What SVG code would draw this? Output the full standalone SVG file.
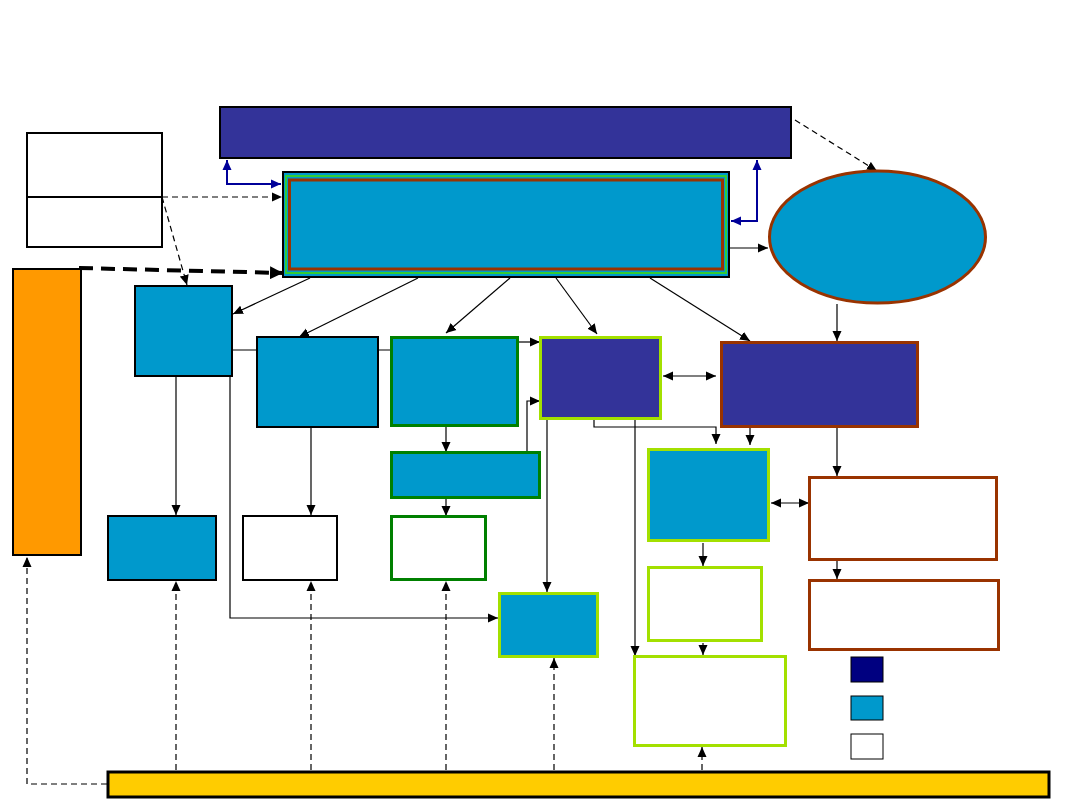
<svg xmlns="http://www.w3.org/2000/svg" width="1080" height="810" viewBox="0 0 1080 810">
<defs>
<marker id="a" viewBox="0 0 10 10" refX="10" refY="5" markerWidth="10" markerHeight="10" markerUnits="userSpaceOnUse" orient="auto-start-reverse"><path d="M0,0.5L10,5L0,9.5z" fill="#000"/></marker>
<marker id="ab" viewBox="0 0 10 10" refX="10" refY="5" markerWidth="10" markerHeight="10" markerUnits="userSpaceOnUse" orient="auto-start-reverse"><path d="M0,0.5L10,5L0,9.5z" fill="#000099"/></marker>
<marker id="abig" viewBox="0 0 10 10" refX="10" refY="5" markerWidth="13" markerHeight="13" markerUnits="userSpaceOnUse" orient="auto"><path d="M0,0L10,5L0,10z" fill="#000"/></marker>
<style>
.k{stroke:#000;stroke-width:2}
.pu{fill:#333399}
.te{fill:#0099cc}
.wh{fill:#fff}
.dg{stroke:#008000;stroke-width:3}
.lg{stroke:#a3e000;stroke-width:3}
.br{stroke:#993300;stroke-width:3}
.c{fill:none;stroke:#000;stroke-width:1.2}
.d{fill:none;stroke:#000;stroke-width:1.2;stroke-dasharray:6,4}
.bl{fill:none;stroke:#000099;stroke-width:2}
</style>
</defs>
<rect width="1080" height="810" fill="#fff"/>
<g id="connectors">
<path class="bl" d="M227,160V184H281" marker-start="url(#ab)" marker-end="url(#ab)"/>
<path class="bl" d="M731,221H757V160" marker-start="url(#ab)" marker-end="url(#ab)"/>
<path class="d" d="M162,197H282" stroke-width="1.8" marker-end="url(#a)"/>
<path class="d" d="M162,197L187,285" marker-end="url(#a)"/>
<path d="M79,268L283,273" fill="none" stroke="#000" stroke-width="4" stroke-dasharray="14,8" marker-end="url(#abig)"/>
<path class="d" d="M795,120L877,171" marker-end="url(#a)"/>
<path class="c" d="M730,248H768" stroke="#555" marker-end="url(#a)"/>
<path class="c" d="M310,278L233,314" marker-end="url(#a)"/>
<path class="c" d="M418,278L299,337" marker-end="url(#a)"/>
<path class="c" d="M510,278L446,333" marker-end="url(#a)"/>
<path class="c" d="M556,278L597,334" marker-end="url(#a)"/>
<path class="c" d="M650,278L750,341" marker-end="url(#a)"/>
<path class="c" d="M837,304V341" marker-end="url(#a)"/>
<path class="c" d="M232,350H257M378,350H391"/>
<path class="c" d="M518,342H540" marker-end="url(#a)"/>
<path class="c" d="M527,452V401H540" marker-end="url(#a)"/>
<path class="c" d="M446,427V452" marker-end="url(#a)"/>
<path class="c" d="M446,499V516" marker-end="url(#a)"/>
<path class="c" d="M176,377V515" marker-end="url(#a)"/>
<path class="c" d="M230,377V618H498" marker-end="url(#a)"/>
<path class="c" d="M311,428V515" marker-end="url(#a)"/>
<path class="c" d="M547,420V592" marker-end="url(#a)"/>
<path class="c" d="M594,420V427H716V444" marker-end="url(#a)"/>
<path class="c" d="M635,420V656" marker-end="url(#a)"/>
<path class="c" d="M663,376H716" marker-start="url(#a)" marker-end="url(#a)"/>
<path class="c" d="M750,428V445" marker-end="url(#a)"/>
<path class="c" d="M837,428V476" marker-end="url(#a)"/>
<path class="c" d="M771,503H809" marker-start="url(#a)" marker-end="url(#a)"/>
<path class="c" d="M703,543V566" marker-end="url(#a)"/>
<path class="c" d="M703,643V655" marker-end="url(#a)"/>
<path class="c" d="M837,561V579" marker-end="url(#a)"/>
<path class="d" d="M176,770V581" marker-end="url(#a)"/>
<path class="d" d="M311,770V581" marker-end="url(#a)"/>
<path class="d" d="M446,770V581" marker-end="url(#a)"/>
<path class="d" d="M554,770V658" marker-end="url(#a)"/>
<path class="d" d="M702,770V747" marker-end="url(#a)"/>
<path class="d" d="M107,784H27V557" marker-end="url(#a)"/>
</g>
<g id="top-bar"><rect x="220" y="107" width="571" height="51" class="pu k"/></g>
<g id="main-box">
<rect x="283" y="172" width="446" height="105" class="te k"/>
<rect x="286" y="176" width="440" height="97" fill="none" stroke="#33cc33" stroke-width="2"/>
<rect x="289.5" y="180" width="433" height="89" fill="none" class="br"/>
</g>
<g id="left-box">
<rect x="27" y="133" width="135" height="114" class="wh k"/>
<line x1="27" y1="197" x2="162" y2="197" class="k"/>
</g>
<g id="orange-bar"><rect x="13" y="269" width="68" height="286" fill="#ff9900" class="k"/></g>
<g id="ellipse"><ellipse cx="877.5" cy="237" rx="108" ry="66" class="te br"/></g>
<g id="box-a"><rect x="135" y="286" width="97" height="90" class="te k"/></g>
<g id="box-b"><rect x="257" y="337" width="121" height="90" class="te k"/></g>
<g id="box-c"><rect x="391.5" y="337.5" width="126" height="88" class="te dg"/></g>
<g id="box-d"><rect x="540.5" y="337.5" width="120" height="81" class="pu lg"/></g>
<g id="box-e"><rect x="721.5" y="342.5" width="196" height="84" class="pu br"/></g>
<g id="box-f"><rect x="391.5" y="452.5" width="148" height="45" class="te dg"/></g>
<g id="box-g"><rect x="108" y="516" width="108" height="64" class="te k"/></g>
<g id="box-h"><rect x="243" y="516" width="94" height="64" class="wh k"/></g>
<g id="box-i"><rect x="391.5" y="516.5" width="94" height="63" class="wh dg"/></g>
<g id="box-j"><rect x="499.5" y="593.5" width="98" height="63" class="te lg"/></g>
<g id="box-k"><rect x="648.5" y="449.5" width="120" height="91" class="te lg"/></g>
<g id="box-l"><rect x="648.5" y="567.5" width="113" height="73" class="wh lg"/></g>
<g id="box-m"><rect x="634.5" y="656.5" width="151" height="89" class="wh lg"/></g>
<g id="box-n"><rect x="809.5" y="477.5" width="187" height="82" class="wh br"/></g>
<g id="box-o"><rect x="809.5" y="580.5" width="189" height="69" class="wh br"/></g>
<g id="legend">
<rect x="851" y="657" width="32" height="25" fill="#000080" stroke="#000" stroke-width="1"/>
<rect x="851" y="696" width="32" height="24" fill="#0099cc" stroke="#000" stroke-width="1"/>
<rect x="851" y="734" width="32" height="25" fill="#fff" stroke="#000" stroke-width="1"/>
</g>
<g id="yellow-bar"><rect x="108" y="772" width="941" height="25" fill="#ffcc00" stroke="#000" stroke-width="3"/></g>
</svg>
